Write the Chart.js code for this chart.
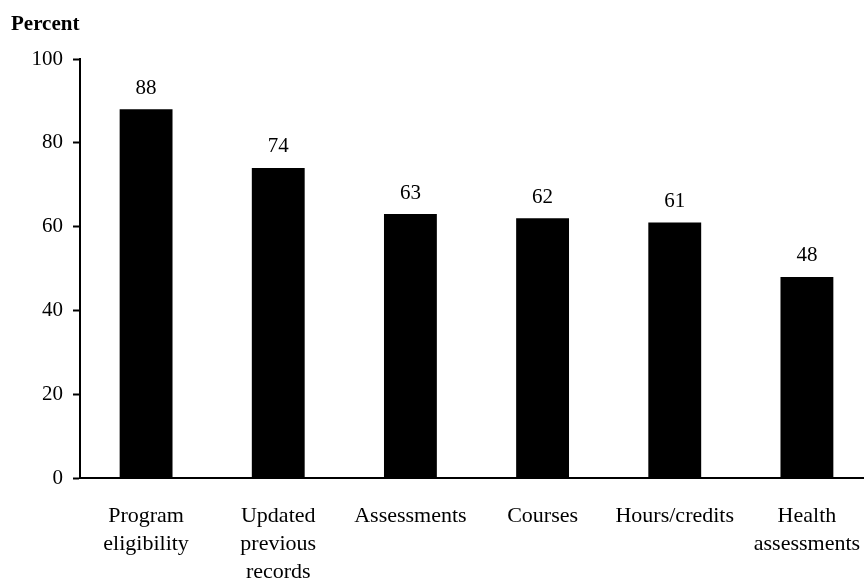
<!DOCTYPE html>
<html>
<head>
<meta charset="utf-8">
<script src="https://cdn.jsdelivr.net/npm/chart.js@4/dist/chart.umd.min.js"></script>
<style>
  html, body { margin: 0; padding: 0; background: #fff; overflow: hidden; }
  #wrap { position: relative; width: 864px; height: 580px; overflow: hidden; }
  #yTitle {
    position: absolute; left: 11px; top: 11px;
    font: bold 21px "Liberation Serif", serif; color: #000;
  }
</style>
</head>
<body>
<div id="wrap">
  <canvas id="chart" width="890" height="580"></canvas>
  <div id="yTitle">Percent</div>
</div>
<script>
const categories = [
  ["Program", "eligibility"],
  ["Updated", "previous", "records"],
  ["Assessments"],
  ["Courses"],
  ["Hours/credits"],
  ["Health", "assessments"],
];
const values = [88, 74, 63, 62, 61, 48];
const yTicks = [0, 20, 40, 60, 80, 100];

const FONT = "Liberation Serif";

const barLabels = {
  id: "barLabels",
  afterDatasetsDraw(chart) {
    const ctx = chart.ctx;
    const meta = chart.getDatasetMeta(0);
    ctx.save();
    ctx.font = `21px "${FONT}"`;
    ctx.fillStyle = "#000";
    ctx.textAlign = "center";
    ctx.textBaseline = "middle";
    meta.data.forEach((bar, i) => {
      ctx.fillText(String(values[i]), bar.x, bar.y - 21);
    });
    ctx.restore();
  },
};

new Chart(document.getElementById("chart"), {
  type: "bar",
  data: {
    labels: categories,
    datasets: [
      {
        data: values,
        backgroundColor: "#000",
        borderWidth: 0,
        barPercentage: 0.4,
        categoryPercentage: 1,
      },
    ],
  },
  options: {
    responsive: false,
    animation: false,
    layout: { padding: { top: 59, right: 17, left: 0, bottom: 0 } },
    plugins: { legend: { display: false }, tooltip: { enabled: false } },
    scales: {
      x: {
        grid: { display: true, drawOnChartArea: false, drawTicks: false },
        border: { color: "#000", width: 2 },
        ticks: {
          color: "#000",
          padding: 24,
          maxRotation: 0,
          autoSkip: false,
          font: { family: FONT, size: 22, lineHeight: 1.27 },
        },
        afterFit(scale) {
          scale.height = 102;
          scale.paddingRight = 0;
        },
      },
      y: {
        min: 0,
        max: 100,
        afterBuildTicks(scale) {
          scale.ticks = yTicks.map((v) => ({ value: v }));
        },
        grid: {
          display: true,
          drawOnChartArea: false,
          drawTicks: true,
          tickLength: 7,
          tickWidth: 2,
          tickColor: "#000",
        },
        border: { color: "#000", width: 2 },
        ticks: {
          color: "#000",
          padding: 10,
          font: { family: FONT, size: 21 },
        },
        afterFit(scale) {
          scale.width = 80;
        },
      },
    },
  },
  plugins: [barLabels],
});
</script>
</body>
</html>
